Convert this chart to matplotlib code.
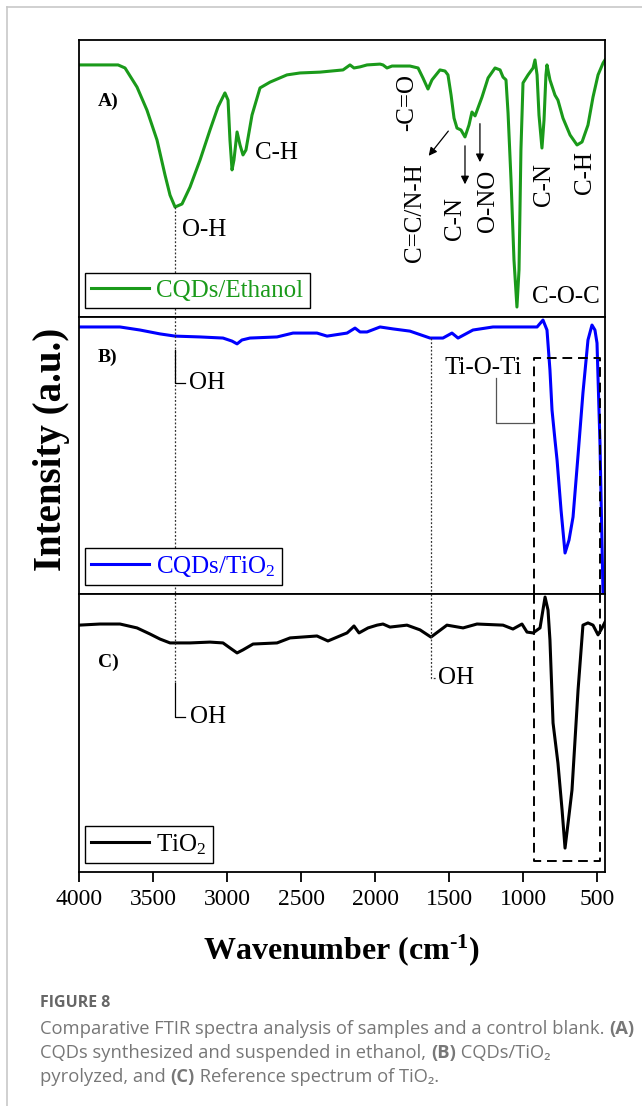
import matplotlib
matplotlib.use("Agg")
import matplotlib.pyplot as plt
from matplotlib.lines import Line2D

plt.rcParams['font.family'] = 'Liberation Serif'
plt.rcParams['mathtext.fontset'] = 'custom'
plt.rcParams['mathtext.rm'] = 'Liberation Serif'
plt.rcParams['mathtext.it'] = 'Liberation Serif:italic'
plt.rcParams['mathtext.bf'] = 'Liberation Serif:bold'

# ---- spectra (wavenumber in cm-1, transmittance-like intensity in a.u.) ----
wn_a = [4000, 3858, 3736, 3689, 3608, 3541, 3473, 3419, 3385, 3351, 3304, 3250,
        3182, 3115, 3061, 3014, 2993, 2980, 2966, 2953, 2932, 2912, 2892, 2872,
        2831, 2777, 2709, 2595, 2507, 2372, 2216, 2169, 2142, 2101, 2054, 1966,
        1946, 1919, 1885, 1764, 1709, 1676, 1642, 1615, 1561, 1527, 1507, 1486,
        1466, 1446, 1419, 1392, 1365, 1345, 1324, 1304, 1277, 1236, 1189, 1155,
        1135, 1115, 1101, 1081, 1061, 1041, 1027, 1014, 1000, 966, 932, 919,
        905, 892, 872, 858, 845, 838, 818, 784, 764, 730, 682, 635, 601, 561,
        527, 493, 459, 446]
int_a = [91.0, 91.0, 91.0, 89.9, 83.0, 74.7, 63.9, 51.3, 44.0, 39.7, 40.8, 46.9,
         56.7, 67.5, 75.8, 80.9, 78.3, 63.9, 53.1, 56.7, 66.8, 62.1, 58.5, 60.3,
         72.9, 82.7, 84.8, 87.4, 88.1, 88.4, 89.2, 91.0, 89.9, 90.3, 91.0, 91.3,
         91.0, 89.9, 90.6, 90.6, 89.9, 86.3, 82.3, 85.6, 89.2, 88.8, 87.4, 80.1,
         71.8, 68.2, 67.5, 65.0, 69.3, 74.0, 72.6, 75.5, 79.4, 86.3, 89.9, 89.2,
         86.6, 85.6, 73.6, 49.5, 20.6, 3.6, 17.0, 60.3, 84.5, 87.4, 89.9, 92.8,
         87.4, 72.9, 61.0, 71.1, 87.4, 91.0, 85.6, 80.1, 78.3, 71.8, 65.7, 62.1,
         63.2, 69.3, 79.4, 87.4, 91.7, 92.8]

wn_b = [4000, 3858, 3723, 3588, 3453, 3351, 3182, 3027, 2966, 2932, 2899, 2845,
        2662, 2554, 2392, 2324, 2189, 2135, 2101, 2054, 1966, 1878, 1764, 1628,
        1541, 1480, 1439, 1338, 1203, 905, 865, 838, 818, 804, 784, 770, 743,
        716, 689, 662, 628, 595, 561, 534, 514, 500, 480, 459]
int_b = [96.4, 96.4, 96.4, 95.3, 93.9, 93.1, 92.8, 92.4, 91.3, 90.3, 91.7, 92.4,
         92.8, 94.2, 94.2, 93.1, 94.2, 96.0, 94.6, 94.6, 96.4, 95.7, 94.9, 92.4,
         92.4, 94.2, 92.4, 95.3, 96.4, 96.4, 98.9, 95.3, 80.9, 66.4, 55.6, 48.4,
         30.3, 14.8, 19.5, 27.8, 50.2, 72.6, 91.7, 97.1, 95.3, 90.6, 54.5, -1.0]

wn_c = [4000, 3858, 3723, 3608, 3520, 3453, 3385, 3250, 3115, 3027, 2980, 2932,
        2892, 2824, 2662, 2574, 2392, 2318, 2189, 2142, 2108, 2047, 1986, 1946,
        1899, 1784, 1696, 1622, 1514, 1405, 1311, 1135, 1068, 1007, 973, 932,
        885, 851, 831, 818, 797, 764, 736, 716, 689, 669, 628, 595, 561, 527,
        493, 466, 446]
int_c = [88.8, 89.2, 89.2, 87.8, 85.6, 83.8, 82.4, 82.4, 82.7, 82.4, 80.6, 78.8,
         79.9, 82.0, 82.4, 84.2, 84.9, 83.1, 86.0, 88.5, 86.0, 87.8, 88.8, 89.2,
         88.1, 88.8, 87.1, 84.5, 88.8, 87.8, 89.2, 88.8, 87.4, 89.2, 86.3, 86.0,
         87.8, 98.9, 94.2, 83.5, 53.6, 39.2, 22.3, 8.6, 20.5, 29.5, 65.5, 88.8,
         89.6, 88.8, 85.3, 87.8, 89.9]

series_labels = ['CQDs/Ethanol', 'CQDs/TiO$_2$', 'TiO$_2$']
series_colors = ['#1a9a1a', '#0000ff', 'black']
panel_tags = ['A)', 'B)', 'C)']
tag_levels = [78.0, 85.6, 75.5]
xticks = [4000, 3500, 3000, 2500, 2000, 1500, 1000, 500]

oh_band = 3351       # O-H stretch
oh_bend = 1622       # O-H bending
tio_band = (926, 480)  # Ti-O-Ti region

W, H = 642, 1106
fig = plt.figure(figsize=(W / 100, H / 100), dpi=100)


def fx(px):
    return px / W


def fy(py):
    return 1 - py / H


left, right = 79, 605
rows = [(40, 317), (317, 594), (594, 872)]
axes = []
for top, bot in rows:
    ax = fig.add_axes([fx(left), fy(bot), (right - left) / W, (bot - top) / H])
    ax.set_xlim(4000, 446)
    ax.set_ylim(0, 100)
    ax.set_yticks([])
    for s in ax.spines.values():
        s.set_linewidth(1.3)
    axes.append(ax)
axA, axB, axC = axes

for ax, wn, val, lab, col, tag, lvl in zip(axes, [wn_a, wn_b, wn_c], [int_a, int_b, int_c],
                                            series_labels, series_colors, panel_tags, tag_levels):
    ax.plot(wn, val, color=col, lw=2.2, label=lab, solid_joinstyle='round')
    ax.text(3872, lvl, tag, fontsize=14, fontweight='bold', ha='left', va='center')
    leg = ax.legend(loc='lower left', bbox_to_anchor=(6 / 526, 9 / 277), borderaxespad=0,
                    fontsize=18, frameon=True, fancybox=False, edgecolor='black',
                    framealpha=1, handlelength=2.3, handletextpad=0.3, borderpad=0.25,
                    labelcolor='linecolor')
    leg.get_frame().set_linewidth(1.0)

for ax in (axA, axB):
    ax.set_xticks([])
axC.set_xticks(xticks)
axC.set_xticklabels([str(t) for t in xticks])
axC.tick_params(axis='x', direction='out', length=7, width=1.3, labelsize=17, pad=5)

dot = dict(color='#333333', lw=0.9, ls=(0, (1.5, 1.5)))
lead = dict(color='black', lw=0.9)

# panel A labels
axA.plot([oh_band, oh_band], [39.7, 0], **dot)
axA.text(3304, 31.4, 'O-H', fontsize=18, ha='left', va='center')
axA.text(2811, 59.2, 'C-H', fontsize=18, ha='left', va='center')
axA.text(1784, 77.3, '-C=O', fontsize=18, rotation=90, ha='center', va='center')
axA.text(1730, 37.5, 'C=C/N-H', fontsize=18, rotation=90, ha='center', va='center')
axA.text(1459, 35.4, 'C-N', fontsize=18, rotation=90, ha='center', va='center')
axA.text(1236, 41.9, 'O-NO', fontsize=18, rotation=90, ha='center', va='center')
axA.text(858, 47.7, 'C-N', fontsize=18, rotation=90, ha='center', va='center')
axA.text(581, 52.3, 'C-H', fontsize=18, rotation=90, ha='center', va='center')
axA.text(709, 7.2, 'C-O-C', fontsize=18, ha='center', va='center')
arw = dict(arrowstyle='-|>', color='black', lw=0.9, mutation_scale=12)
axA.annotate('', xy=(1649, 57.4), xytext=(1493, 67.9), arrowprops=arw)
axA.annotate('', xy=(1392, 46.9), xytext=(1392, 62.8), arrowprops=arw)
axA.annotate('', xy=(1291, 54.9), xytext=(1291, 70.8), arrowprops=arw)

# panel B labels
axB.plot([oh_band, oh_band], [100, 0], **dot)
axB.plot([oh_band, oh_band, 3284], [88.1, 76.2, 76.2], **lead)
axB.text(3257, 76.2, 'OH', fontsize=18, ha='left', va='center')
axB.plot([oh_bend, oh_bend], [92.4, 0], **dot)
axB.text(1270, 81.6, 'Ti-O-Ti', fontsize=18, ha='center', va='center')
axB.plot([1182, 1182, tio_band[0]], [78.0, 61.7, 61.7], color='#555555', lw=0.9)

# panel C labels
axC.plot([oh_band, oh_band], [100, 68.0], **dot)
axC.plot([oh_band, oh_band, 3284], [68.0, 55.8, 55.8], **lead)
axC.text(3250, 55.8, 'OH', fontsize=18, ha='left', va='center')
axC.plot([oh_bend, oh_bend, 1581], [100, 69.8, 69.8], **dot)
axC.text(1574, 69.8, 'OH', fontsize=18, ha='left', va='center')

# dashed box around the Ti-O-Ti band, spanning panels B and C
box = dict(color='black', lw=1.4, ls=(0, (5, 3)), clip_on=False)
axB.plot([tio_band[0], tio_band[0], tio_band[1], tio_band[1]], [0, 85.2, 85.2, 0], **box)
axC.plot([tio_band[0], tio_band[0], tio_band[1], tio_band[1]], [100, 4.0, 4.0, 100], **box)

fig.text(fx(52), fy(449), 'Intensity (a.u.)', rotation=90, fontsize=28,
         fontweight='bold', ha='center', va='center')
fig.text(fx(342), fy(950), 'Wavenumber (cm$^{\\mathbf{\u2010 1}}$)', fontsize=23,
         fontweight='bold', ha='center', va='center')

# page border
fig.add_artist(Line2D([fx(7), fx(7)], [fy(7), 0], color='#c8c8c8', lw=1.2,
                      transform=fig.transFigure))
fig.add_artist(Line2D([fx(7), 1], [fy(7), fy(7)], color='#c8c8c8', lw=1.2,
                      transform=fig.transFigure))

# caption
cap_font = ['Open Sans', 'DejaVu Sans']
renderer = fig.canvas.get_renderer()


def draw_runs(x, y, runs, size=13.2, color='#777777'):
    for s, weight in runs:
        t = fig.text(x, y, s, fontsize=size, fontweight=weight, color=color,
                     family=cap_font, ha='left', va='center')
        x += t.get_window_extent(renderer).width / fig.bbox.width


draw_runs(fx(40), fy(1003), [('FIGURE 8', 'bold')], size=11.5, color='#666666')
draw_runs(fx(40), fy(1029), [('Comparative FTIR spectra analysis of samples and a control blank. ', 'normal'),
                             ('(A)', 'bold')])
draw_runs(fx(40), fy(1053), [('CQDs synthesized and suspended in ethanol, ', 'normal'),
                             ('(B)', 'bold'), (' CQDs/TiO\u2082', 'normal')])
draw_runs(fx(40), fy(1077), [('pyrolyzed, and ', 'normal'), ('(C)', 'bold'),
                             (' Reference spectrum of TiO\u2082.', 'normal')])

fig.savefig('out.png', dpi=100)
